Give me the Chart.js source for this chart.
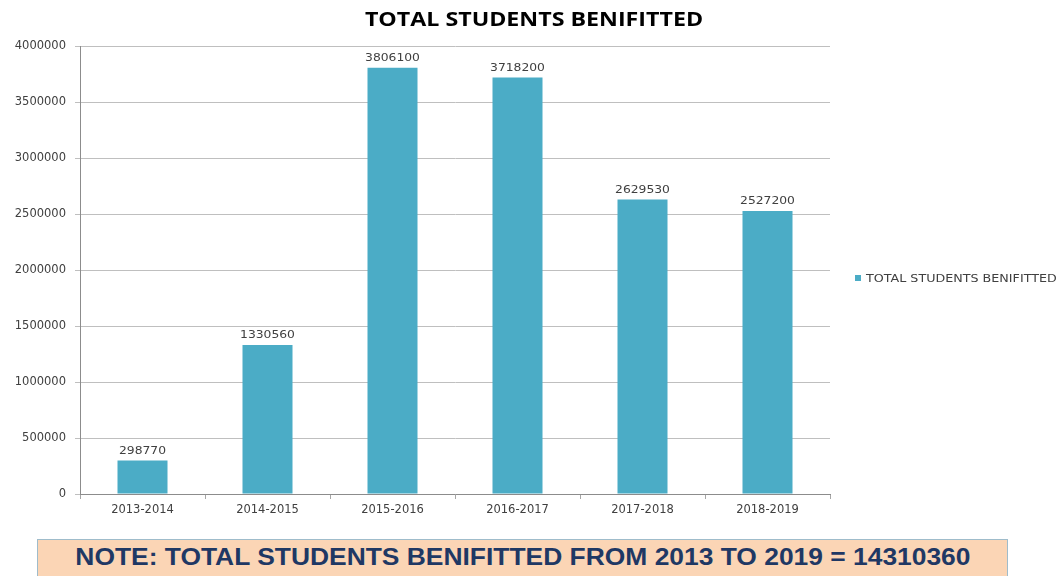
<!DOCTYPE html>
<html>
<head>
<meta charset="utf-8">
<script src="https://cdn.jsdelivr.net/npm/chart.js@4"></script>
<style>
  html, body { margin: 0; padding: 0; background: #ffffff; }
  #wrap { position: relative; width: 1060px; height: 576px; overflow: hidden; }
  #note {
    position: absolute; left: 37px; top: 539px; width: 971px; height: 42px;
    background: #fbd5b5; border: 1px solid #9fbccb; box-sizing: border-box;
    text-align: center;
  }
  #note span {
    display: inline-block; transform: scaleX(1.1); transform-origin: 50% 50%;
    font-family: "Liberation Sans", sans-serif; font-weight: bold;
    font-size: 24px; color: #1f3864; line-height: 34px;
  }
</style>
</head>
<body>
<div id="wrap">
  <canvas id="c" width="1060" height="576"></canvas>
  <div id="note"><span>NOTE: TOTAL STUDENTS BENIFITTED FROM 2013 TO 2019 = 14310360</span></div>
</div>
<script>
const categories = ["2013-2014", "2014-2015", "2015-2016", "2016-2017", "2017-2018", "2018-2019"];
const studentsBenefitted = [298770, 1330560, 3806100, 3718200, 2629530, 2527200];
const seriesName = "TOTAL STUDENTS BENIFITTED";
const chartTitle = "TOTAL STUDENTS BENIFITTED";
const yTicks = [0, 500000, 1000000, 1500000, 2000000, 2500000, 3000000, 3500000, 4000000];

const barColor = "#4bacc6";
const textColor = "#404040";

function stretchedText(ctx, text, x, y, sx) {
  ctx.save();
  ctx.translate(x, y);
  ctx.scale(sx, 1);
  ctx.fillText(text, 0, 0);
  ctx.restore();
}

const extras = {
  id: "extras",
  afterDatasetsDraw(chart) {
    const ctx = chart.ctx;
    const meta = chart.getDatasetMeta(0);
    ctx.save();
    ctx.font = "11px 'DejaVu Sans'";
    ctx.fillStyle = textColor;
    ctx.textAlign = "center";
    ctx.textBaseline = "bottom";
    meta.data.forEach((bar, i) => {
      stretchedText(ctx, String(studentsBenefitted[i]), bar.x, bar.y - 4, 1.12);
    });
    // title
    ctx.font = "bold 19.5px 'Open Sans'";
    ctx.fillStyle = "#000000";
    ctx.textBaseline = "middle";
    stretchedText(ctx, chartTitle, 534, 20, 1.19);
    // legend
    ctx.fillStyle = barColor;
    ctx.fillRect(855, 275, 6, 6);
    ctx.font = "10px 'DejaVu Sans'";
    ctx.fillStyle = textColor;
    ctx.textAlign = "left";
    stretchedText(ctx, seriesName, 866, 279, 1.27);
    ctx.restore();
  }
};

new Chart(document.getElementById("c"), {
  type: "bar",
  data: {
    labels: categories,
    datasets: [{
      label: seriesName,
      data: studentsBenefitted,
      backgroundColor: barColor,
      barPercentage: 0.4,
      categoryPercentage: 1.0
    }]
  },
  options: {
    responsive: false,
    animation: false,
    layout: { padding: { top: 46, right: 230, left: 0, bottom: 0 } },
    plugins: { legend: { display: false }, title: { display: false }, tooltip: { enabled: false } },
    scales: {
      x: {
        grid: { display: true, drawOnChartArea: false, drawTicks: true, tickLength: 5, color: "#a6a6a6", offset: true },
        border: { color: "#8c8c8c" },
        ticks: { color: textColor, font: { family: "DejaVu Sans", size: 11.5 }, padding: 4, maxRotation: 0 },
        afterFit(scale) { scale.height = 82; }
      },
      y: {
        min: 0, max: 4000000,
        afterBuildTicks(scale) { scale.ticks = yTicks.map(v => ({ value: v })); },
        grid: { color: "#bfbfbf", tickLength: 5 },
        border: { color: "#8c8c8c" },
        ticks: { color: textColor, font: { family: "DejaVu Sans", size: 11.5 }, padding: 9, callback: v => String(v) },
        afterFit(scale) { scale.width = 80; }
      }
    }
  },
  plugins: [extras]
});
</script>
</body>
</html>
